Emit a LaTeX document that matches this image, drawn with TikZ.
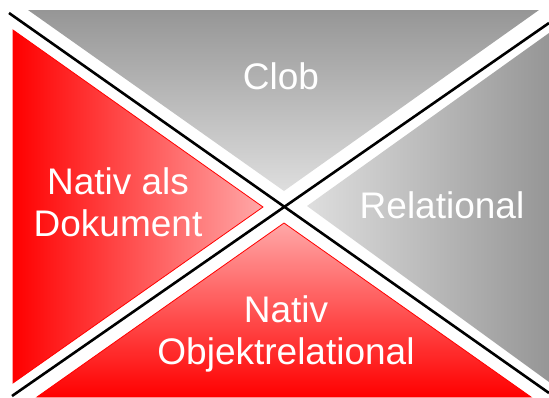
\documentclass[tikz,border=0pt]{standalone}
\usepackage{fontspec}
\setmainfont{Liberation Sans}
\definecolor{greydark}{RGB}{150,150,150}
\definecolor{greylight}{RGB}{222,222,222}
\definecolor{pinklight}{RGB}{255,168,168}
\definecolor{reddeep}{RGB}{255,0,0}
\begin{document}
\begin{tikzpicture}[
        x=1pt, y=-1pt,
        txt/.style={text=white, font=\fontsize{37}{42}\selectfont, align=center, inner sep=0pt},
        cross line/.style={line width=2.6pt, black},
        red edge/.style={draw=red, line width=0.8pt}
      ]
      \useasboundingbox (0,0) rectangle (549,397);
      \coordinate (nw) at (9,13);
      \coordinate (se) at (549,393);
      \coordinate (sw) at (12,396);
      \coordinate (ne) at (549,23);
      \shade[top color=greydark, bottom color=greylight] (28,10) -- (539,10) -- (284,191) -- cycle;
      \shade[left color=greylight, right color=greydark] (549,33) -- (307,206) -- (549,382) -- cycle;
      \shade[red edge, left color=reddeep, right color=pinklight] (13,30) -- (263,207) -- (13,383) -- cycle;
      \shade[red edge, top color=pinklight, bottom color=reddeep] (37,397) -- (284,223) -- (531,397) -- cycle;
      \draw[cross line] (nw) -- (se);
      \draw[cross line] (sw) -- (ne);
      \node[txt, anchor=base] (clob) at (281,89) {Clob};
      \node[txt, anchor=base] (relational) at (442,218) {Relational};
      \node[txt] (dokument) at (118,202) {Nativ als\\Dokument};
      \node[txt] (objekt) at (286,334) {Nativ\\Objektrelational};
\end{tikzpicture}
\end{document}
